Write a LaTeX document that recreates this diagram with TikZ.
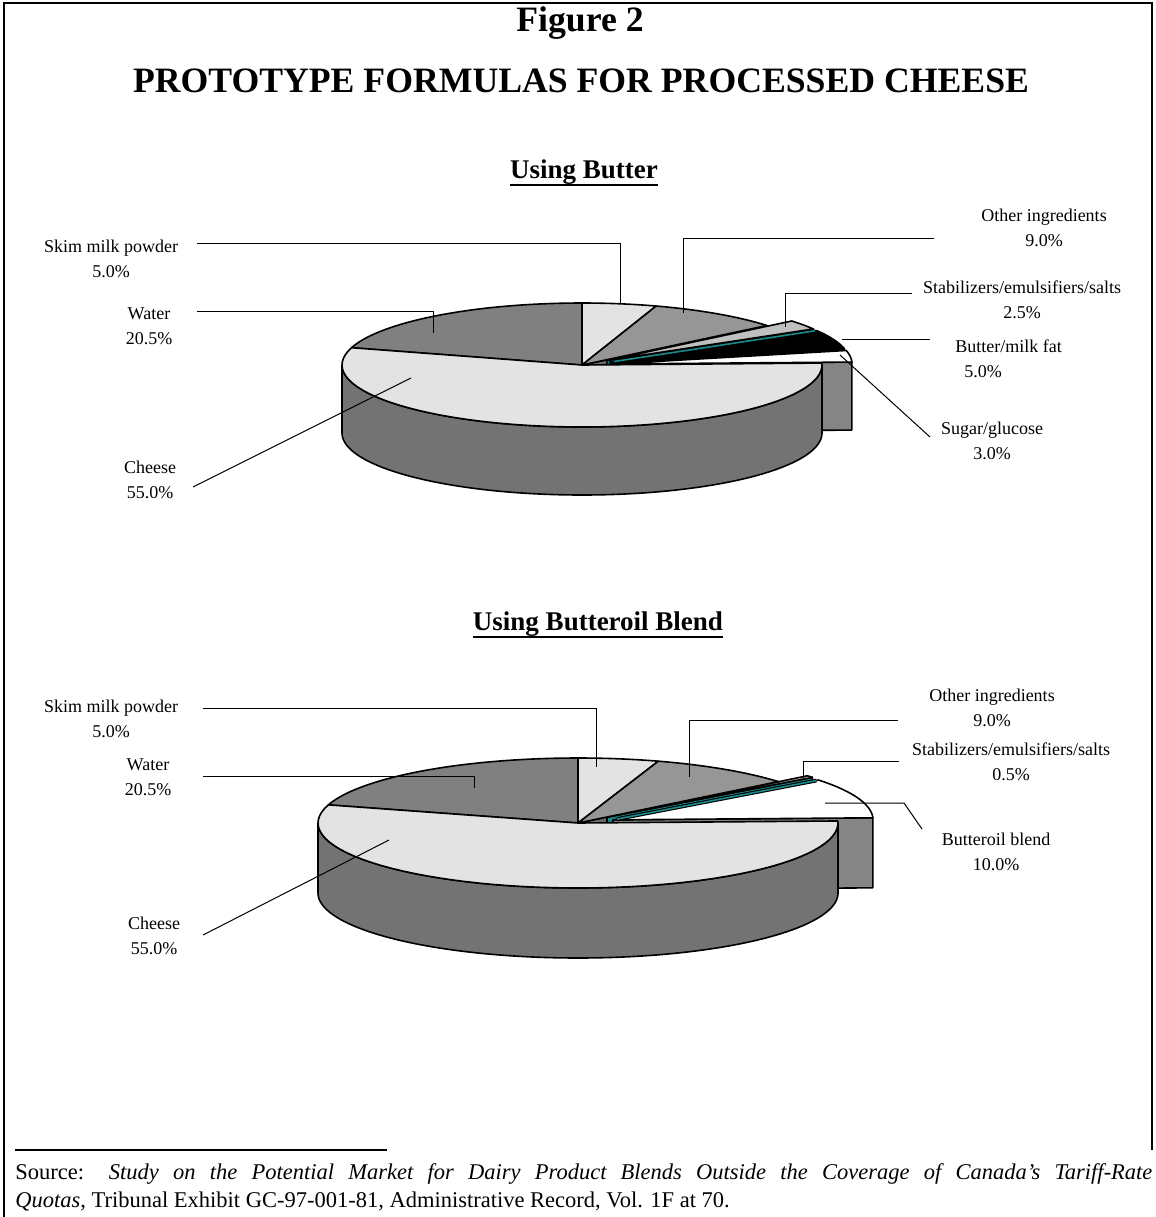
\documentclass[tikz,border=0pt]{standalone}
\usepackage{fontspec}
\setmainfont{Liberation Serif}
\definecolor{topLight}{HTML}{E3E3E3}
\definecolor{cheeseSide}{HTML}{737373}
\definecolor{waterTop}{HTML}{808080}
\definecolor{otherTop}{HTML}{969696}
\definecolor{otherSide}{HTML}{6A6A6A}
\definecolor{stabTop}{HTML}{C0C0C0}
\definecolor{boxSide}{HTML}{858585}
\definecolor{tealSide}{HTML}{1A8A8A}
% top face of a slice: style, a1, a2, dx, dy
\newcommand{\PieTop}[5]{%
  \path[#1] ({\pcx+(#4)},{\pcy+(#5)}) -- plot[domain=#2:#3,samples=60,variable=\t]
    ({\pcx+(#4)+\prx*cos(\t)},{\pcy+(#5)-\pry*sin(\t)}) -- cycle;}
% radial cut face: style, angle, dx, dy
\newcommand{\PieFace}[4]{%
  \path[#1] ({\pcx+(#3)},{\pcy+(#4)})
    -- ({\pcx+(#3)+\prx*cos(#2)},{\pcy+(#4)-\pry*sin(#2)})
    -- ({\pcx+(#3)+\prx*cos(#2)},{\pcy+(#4)-\pry*sin(#2)+\pdd})
    -- ({\pcx+(#3)},{\pcy+(#4)+\pdd}) -- cycle;}
% front wall of the cylinder
\newcommand{\PieWall}[1]{%
  \path[#1] ({\pcx-\prx},{\pcy})
    -- plot[domain=180:360,samples=90,variable=\t] ({\pcx+\prx*cos(\t)},{\pcy-\pry*sin(\t)+\pdd})
    -- ({\pcx+\prx},{\pcy})
    -- plot[domain=360:180,samples=90,variable=\t] ({\pcx+\prx*cos(\t)},{\pcy-\pry*sin(\t)})
    -- cycle;}
\begin{document}
\begin{tikzpicture}[x=0.5pt,y=-0.5pt,
  edge/.style={draw=black,line width=0.8pt,line join=round},
  leader/.style={draw=black,line width=0.5pt},
  lbl/.style={font=\fontsize{9}{12.3}\selectfont,align=center,inner sep=0pt},
  ttl/.style={font=\bfseries\fontsize{17.85}{21}\selectfont,inner sep=0pt,anchor=base},
  subttl/.style={font=\bfseries\fontsize{13.5}{16}\selectfont,inner sep=0pt,anchor=base},
  tealedge/.style={draw=black,line width=1.9pt},
  tealline/.style={draw=tealSide,line width=0.8pt},
  src/.style={font=\fontsize{11.25}{14}\selectfont,inner sep=0pt,anchor=base west},
]
\useasboundingbox (0,0) rectangle (1156,1217);
\fill[white] (0,0) rectangle (1156,1217);
% frame
\draw[line width=1pt] (4,1217) -- (4,3) -- (1152,3) -- (1152,1150);

% titles
\node[ttl] (fig) at (580,31) {Figure 2};
\node[ttl] (title) at (581,92) {PROTOTYPE FORMULAS FOR PROCESSED CHEESE};
\node[subttl] (sub1) at (584,178) {Using Butter};
\draw[line width=0.9pt] ([yshift=-3.3pt]sub1.base west) -- ([yshift=-3.3pt]sub1.base east);
\node[subttl] (sub2) at (598,630) {Using Butteroil Blend};
\draw[line width=0.9pt] ([yshift=-3.3pt]sub2.base west) -- ([yshift=-3.3pt]sub2.base east);

% ================= PIE 1 =================
\def\pcx{582}\def\pcy{365}\def\prx{240}\def\pry{62}\def\pdd{68}
\PieFace{fill=otherSide,edge}{39.6}{0}{0}
\PieFace{fill=tealSide,edge}{30.6}{24.8}{-4.5}
\PieFace{fill=black,edge}{12.6}{28.1}{-2.9}
\PieFace{fill=boxSide,edge}{1.8}{30.0}{-1.0}
\PieTop{fill=stabTop,edge}{30.6}{39.6}{24.8}{-4.5}
\PieTop{fill=black,edge}{12.6}{30.6}{28.1}{-2.9}
\PieTop{fill=white,edge}{1.8}{12.6}{30.0}{-1.0}
\coordinate (t1a) at ({\pcx+28.1+4},{\pcy-2.9-0.6});
\coordinate (t1b) at ({\pcx+28.1+\prx*cos(30.6)-2},{\pcy-2.9-\pry*sin(30.6)+0.3});
\draw[tealedge] (t1a) -- (t1b);
\draw[tealline] (t1a) -- (t1b);
\PieWall{fill=cheeseSide,edge}
\PieTop{fill=waterTop,edge}{90}{163.8}{0}{0}
\PieTop{fill=topLight,edge}{72}{90}{0}{0}
\PieTop{fill=otherTop,edge}{39.6}{72}{0}{0}
\PieTop{fill=topLight,edge}{-196.2}{1.8}{0}{0}

% leaders pie 1
\coordinate (a1) at (197,243); \coordinate (a2) at (620,243); \coordinate (a3) at (620,304);
\coordinate (b1) at (197,311); \coordinate (b2) at (433,311); \coordinate (b3) at (433,333);
\coordinate (c1) at (934,238); \coordinate (c2) at (683,238); \coordinate (c3) at (683,313);
\coordinate (d1) at (912,293); \coordinate (d2) at (785,293); \coordinate (d3) at (785,327);
\coordinate (e1) at (930,339); \coordinate (e2) at (842,339);
\coordinate (f1) at (930,437); \coordinate (f2) at (840,355);
\coordinate (g1) at (193,487); \coordinate (g2) at (411,378);
\draw[leader] (a1) -- (a2) -- (a3);
\draw[leader] (b1) -- (b2) -- (b3);
\draw[leader] (c1) -- (c2) -- (c3);
\draw[leader] (d1) -- (d2) -- (d3);
\draw[leader] (e1) -- (e2);
\draw[leader] (f1) -- (f2);
\draw[leader] (g1) -- (g2);

% labels pie 1
\node[lbl] (l1skim) at (111,259) {Skim milk powder\\5.0\%};
\node[lbl] (l1water) at (149,326) {Water\\20.5\%};
\node[lbl] (l1cheese) at (150,480) {Cheese\\55.0\%};
\node[lbl] (l1other) at (1044,228) {Other ingredients\\9.0\%};
\node[lbl] (l1stab) at (1022,300) {Stabilizers/emulsifiers/salts\\2.5\%};
\node[lbl,align=left,anchor=west] (l1butter) at (955,359) {Butter/milk fat\\\hspace*{4.5pt}5.0\%};
\node[lbl] (l1sugar) at (992,441) {Sugar/glucose\\3.0\%};

% ================= PIE 2 =================
\def\pcx{578}\def\pcy{823}\def\prx{260}\def\pry{65}\def\pdd{70}
\PieFace{fill=otherSide,edge}{39.6}{0}{0}
\PieFace{fill=tealSide,edge}{37.8}{29.0}{-5.8}
\PieFace{fill=boxSide,edge}{1.8}{35.0}{-3.15}
\PieTop{fill=stabTop,edge}{37.8}{39.6}{29.0}{-5.8}
\PieTop{fill=white,edge}{1.8}{37.8}{35.0}{-3.15}
\coordinate (t2a) at ({\pcx+35.0+4},{\pcy-3.15-0.8});
\coordinate (t2b) at ({\pcx+35.0+\prx*cos(37.8)-2},{\pcy-3.15-\pry*sin(37.8)+0.5});
\draw[tealedge] (t2a) -- (t2b);
\draw[tealline] (t2a) -- (t2b);
\PieWall{fill=cheeseSide,edge}
\PieTop{fill=waterTop,edge}{90}{163.8}{0}{0}
\PieTop{fill=topLight,edge}{72}{90}{0}{0}
\PieTop{fill=otherTop,edge}{39.6}{72}{0}{0}
\PieTop{fill=topLight,edge}{-196.2}{1.8}{0}{0}

% leaders pie 2
\coordinate (p1) at (203,708); \coordinate (p2) at (596,708); \coordinate (p3) at (596,767);
\coordinate (q1) at (203,776); \coordinate (q2) at (474,776); \coordinate (q3) at (474,788);
\coordinate (r1) at (898,720); \coordinate (r2) at (689,720); \coordinate (r3) at (689,777);
\coordinate (s1) at (899,761); \coordinate (s2) at (803,761); \coordinate (s3) at (803,778);
\coordinate (u1) at (922,829); \coordinate (u2) at (904,803); \coordinate (u3) at (825,803);
\coordinate (v1) at (203,935); \coordinate (v2) at (389,840);
\draw[leader] (p1) -- (p2) -- (p3);
\draw[leader] (q1) -- (q2) -- (q3);
\draw[leader] (r1) -- (r2) -- (r3);
\draw[leader] (s1) -- (s2) -- (s3);
\draw[leader] (u1) -- (u2) -- (u3);
\draw[leader] (v1) -- (v2);

% labels pie 2
\node[lbl] (l2skim) at (111,719) {Skim milk powder\\5.0\%};
\node[lbl] (l2water) at (148,777) {Water\\20.5\%};
\node[lbl] (l2cheese) at (154,936) {Cheese\\55.0\%};
\node[lbl] (l2other) at (992,708) {Other ingredients\\9.0\%};
\node[lbl] (l2stab) at (1011,762) {Stabilizers/emulsifiers/salts\\0.5\%};
\node[lbl] (l2oil) at (996,852) {Butteroil blend\\10.0\%};

% footnote
\draw[line width=0.9pt] (15,1150) -- (387,1150);
\node[src] (src1) at (15,1179) {\makebox[568.5pt][s]{Source: \textit{Study on the Potential Market for Dairy Product Blends Outside the Coverage of Canada’s Tariff-Rate}}};
\node[src] (src2) at (15,1207) {\textit{Quotas}, Tribunal Exhibit GC-97-001-81, Administrative Record, Vol. 1F at 70.};
\end{tikzpicture}
\end{document}
